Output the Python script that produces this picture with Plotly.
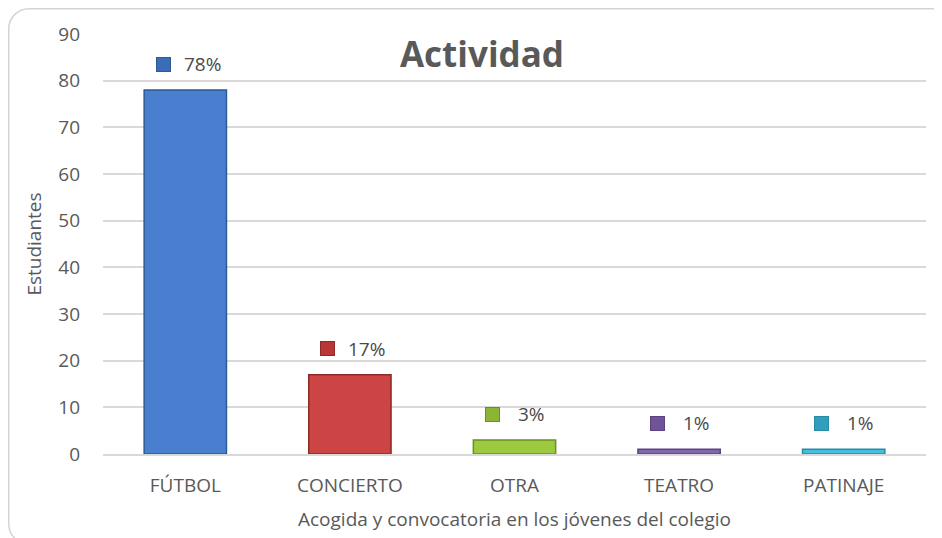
import plotly.graph_objects as go

categories = ["FÚTBOL", "CONCIERTO", "OTRA", "TEATRO", "PATINAJE"]
values = [78, 17, 3, 1, 1]
percent_labels = ["78%", "17%", "3%", "1%", "1%"]
colors = ["#4a7fcf", "#cc4444", "#9cc93e", "#8466ac", "#45bfdd"]
edge_colors = ["#2c5a96", "#8e2a2a", "#6a8f22", "#5a437e", "#2a8aa4"]
marker_colors = ["#3a6db5", "#b83636", "#8ab634", "#70549a", "#2f9fbd"]

# page body adds an 8px offset, so figure coordinates = window coordinates - 8
W, H = 934, 530
L, R, T, B = 95, 16, 26, 84
pw, ph = W - L - R, H - T - B

font = "'Open Sans', sans-serif"
txt = "#595959"

fig = go.Figure()
fig.add_trace(go.Bar(
    x=categories, y=values, width=0.5,
    marker=dict(color=colors, line=dict(color=edge_colors, width=1.5)),
    showlegend=False, hoverinfo="skip",
))

for cat, v, lab, mc, ec in zip(categories, values, percent_labels, marker_colors, edge_colors):
    fig.add_annotation(x=cat, y=v, yref="y", text=" ", showarrow=False,
                       width=13, height=13, bgcolor=mc, bordercolor=ec, borderwidth=1,
                       borderpad=0, font=dict(size=4),
                       xshift=-22, yshift=26)
    fig.add_annotation(x=cat, y=v, yref="y", text=lab, showarrow=False,
                       font=dict(size=19, color="#4a4a4a", family=font),
                       xshift=17, yshift=26)

def px2x(px):
    return (px - L) / pw

def py2y(py):
    return (H - B - py) / ph

# rounded outer frame (figure pixel coordinates converted to paper)
x0, x1, y0, y1, r = 0.75, 946, 0.75, 536, 20
k = 0.45
path = (
    f"M {px2x(x0 + r)} {py2y(y0)} L {px2x(x1 - r)} {py2y(y0)} "
    f"C {px2x(x1 - r * k)} {py2y(y0)} {px2x(x1)} {py2y(y0 + r * k)} {px2x(x1)} {py2y(y0 + r)} "
    f"L {px2x(x1)} {py2y(y1 - r)} "
    f"C {px2x(x1)} {py2y(y1 - r * k)} {px2x(x1 - r * k)} {py2y(y1)} {px2x(x1 - r)} {py2y(y1)} "
    f"L {px2x(x0 + r)} {py2y(y1)} "
    f"C {px2x(x0 + r * k)} {py2y(y1)} {px2x(x0)} {py2y(y1 - r * k)} {px2x(x0)} {py2y(y1 - r)} "
    f"L {px2x(x0)} {py2y(y0 + r)} "
    f"C {px2x(x0)} {py2y(y0 + r * k)} {px2x(x0 + r * k)} {py2y(y0)} {px2x(x0 + r)} {py2y(y0)} Z"
)
fig.add_shape(type="path", path=path, xref="paper", yref="paper",
              line=dict(color="#d4d4d4", width=1.5), layer="below")

fig.update_layout(
    width=W, height=H,
    margin=dict(l=L, r=R, t=T, b=B, autoexpand=False),
    plot_bgcolor="white", paper_bgcolor="white",
    font=dict(family=font, color=txt, size=19),
    title=dict(text="<b>Actividad</b>", x=(482 - 8) / W, xanchor="center",
               y=1 - (55 - 8) / H, yanchor="middle",
               font=dict(size=35, color="#595959", family=font)),
    xaxis=dict(showgrid=False, showline=True, linecolor="#d9d9d9", linewidth=1.5,
               ticks="", tickfont=dict(size=19, color=txt), ticklabelstandoff=13,
               title=dict(text="Acogida y convocatoria en los jóvenes del colegio",
                          font=dict(size=19, color=txt), standoff=16)),
    yaxis=dict(range=[0, 90], dtick=10, showgrid=True, gridcolor="#d9d9d9", gridwidth=1.5,
               zeroline=False, ticks="", tickfont=dict(size=19, color=txt),
               ticklabelstandoff=22,
               title=dict(text="Estudiantes", font=dict(size=19, color=txt), standoff=11)),
    bargap=0.5,
)

fig.write_html("out.html")
